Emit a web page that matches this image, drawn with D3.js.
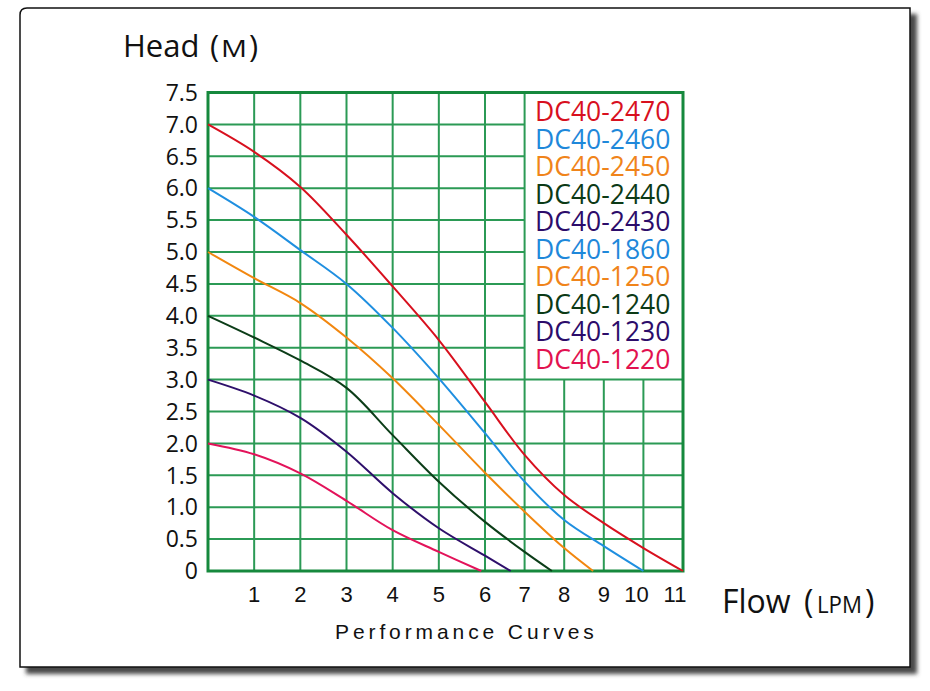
<!DOCTYPE html>
<meta charset="utf-8">
<style>
body { margin: 0; background: #fff; }
.grid line { stroke: #2b9a55; stroke-width: 2px; }
.frame-border { fill: none; stroke: #16893d; stroke-width: 3px; }
.curve { fill: none; stroke-width: 2px; }
.ytick { font-family: "Open Sans", sans-serif; font-size: 23px; fill: #111; }
.xtick { font-family: "Liberation Sans", Arial, sans-serif; font-size: 22px; fill: #111; }
.legend text { font-family: "Open Sans", sans-serif; font-size: 26.5px; }
.axis-title { font-family: "Open Sans", sans-serif; fill: #111; }
.caption { font-family: "Liberation Sans", Arial, sans-serif; font-size: 21px; letter-spacing: 3.9px; fill: #111; }
</style>
<body>
<script src="https://d3js.org/d3.v7.min.js"></script>
<script>

var width = 930,
    height = 691;

// axis ticks
var flowTicks = [1, 2, 3, 4, 5, 6, 7, 8, 9, 10, 11];
var headTicks = [0, 0.5, 1, 1.5, 2, 2.5, 3, 3.5, 4, 4.5, 5, 5.5, 6, 6.5, 7, 7.5];

// legend
var models = ["DC40-2470", "DC40-2460", "DC40-2450", "DC40-2440", "DC40-2430",
              "DC40-1860", "DC40-1250", "DC40-1240", "DC40-1230", "DC40-1220"];
var modelColors = ["#d8101e", "#1f88da", "#f0841a", "#0c3a16", "#2c0c6a",
                   "#1f88da", "#f0841a", "#0c3a16", "#2c0c6a", "#e2124f"];

// curves (flow LPM, head M)
var flow2470 = [0, 1, 2, 3, 4, 5, 6, 7, 8, 9, 10, 11];
var head2470 = [7.0, 6.57, 6.02, 5.27, 4.46, 3.62, 2.65, 1.82, 1.19, 0.75, 0.36, 0];
var flow2460 = [0, 1, 2, 3, 4, 5, 6, 7, 8, 9, 10];
var head2460 = [6.0, 5.55, 5.03, 4.5, 3.81, 3.02, 2.16, 1.40, 0.80, 0.39, 0];
var flow2450 = [0, 1, 2, 3, 4, 5, 6, 7, 8, 8.73];
var head2450 = [5.0, 4.59, 4.2, 3.66, 3.02, 2.29, 1.54, 0.93, 0.36, 0];
var flow2440 = [0, 1, 2, 3, 4, 5, 6, 7, 7.69];
var head2440 = [4.0, 3.66, 3.30, 2.87, 2.13, 1.40, 0.77, 0.30, 0];
var flow2430 = [0, 1, 2, 3, 4, 5, 6, 6.65];
var head2430 = [3.0, 2.75, 2.40, 1.87, 1.22, 0.67, 0.24, 0];
var flow1220 = [0, 1, 2, 3, 4, 5, 5.92];
var head1220 = [2.0, 1.83, 1.53, 1.10, 0.64, 0.30, 0];

var curves = [
  {flow: flow2470, head: head2470, color: "#d8101e"},
  {flow: flow2460, head: head2460, color: "#1f8fe0"},
  {flow: flow2450, head: head2450, color: "#f2870f"},
  {flow: flow2440, head: head2440, color: "#0c3d18"},
  {flow: flow2430, head: head2430, color: "#2e0f6b"},
  {flow: flow1220, head: head1220, color: "#e3135a"}
];

// the flow axis is squeezed after 6 LPM
var x = d3.scaleLinear().domain([0, 6, 11]).range([208, 485, 683]);
var y = d3.scaleLinear().domain([0, 7.5]).range([571, 92.5]);

var svg = d3.select("body").append("svg")
    .attr("width", width)
    .attr("height", height);

// card frame with shadow
var defs = svg.append("defs");
defs.append("filter").attr("id", "blur")
  .append("feGaussianBlur").attr("stdDeviation", 2);

svg.append("rect")
    .attr("x", 26).attr("y", 14)
    .attr("width", 891).attr("height", 660)
    .attr("fill", "#4a4a4a")
    .attr("filter", "url(#blur)");

svg.append("path")
    .attr("d", "M20,15 Q20,8 27,8 H910 V667 H20 Z")
    .attr("fill", "#fff")
    .attr("stroke", "#111")
    .attr("stroke-width", 1.5);

// grid
var legendFlow = 7, legendHead = 3;
var grid = svg.append("g").attr("class", "grid");

grid.selectAll(".h")
    .data(headTicks.filter(function(d) { return d > 0 && d < 7.5; }))
  .enter().append("line")
    .attr("x1", x(0))
    .attr("x2", function(d) { return d > legendHead ? x(legendFlow) : x(11); })
    .attr("y1", function(d) { return y(d); })
    .attr("y2", function(d) { return y(d); });

grid.selectAll(".v")
    .data(flowTicks.filter(function(d) { return d < 11; }))
  .enter().append("line")
    .attr("x1", function(d) { return x(d); })
    .attr("x2", function(d) { return x(d); })
    .attr("y1", y(0))
    .attr("y2", function(d) { return d > legendFlow ? y(legendHead) : y(7.5); });

svg.append("rect")
    .attr("class", "frame-border")
    .attr("x", x(0)).attr("y", y(7.5))
    .attr("width", x(11) - x(0))
    .attr("height", y(0) - y(7.5));

// curves
var line = d3.line()
    .x(function(d) { return x(d[0]); })
    .y(function(d) { return y(d[1]); })
    .curve(d3.curveCatmullRom.alpha(0.5));

svg.selectAll(".curve")
    .data(curves)
  .enter().append("path")
    .attr("class", "curve")
    .attr("stroke", function(d) { return d.color; })
    .attr("d", function(d) { return line(d3.zip(d.flow, d.head)); });

// tick labels
svg.selectAll(".ytick")
    .data(headTicks)
  .enter().append("text")
    .attr("class", "ytick")
    .attr("x", 198)
    .attr("y", function(d) { return y(d); })
    .attr("dy", "0.36em")
    .attr("text-anchor", "end")
    .text(function(d) { return d === 0 ? "0" : d3.format(".1f")(d); });

svg.selectAll(".xtick")
    .data(flowTicks)
  .enter().append("text")
    .attr("class", "xtick")
    .attr("x", function(d) { return x(d); })
    .attr("dx", function(d) { return d === 10 ? -7 : d === 11 ? -8 : 0; })
    .attr("y", 602)
    .attr("text-anchor", "middle")
    .text(function(d) { return d; });

// legend
svg.append("g")
    .attr("class", "legend")
  .selectAll("text")
    .data(models)
  .enter().append("text")
    .attr("x", 535)
    .attr("y", function(d, i) { return 121 + i * 27.5; })
    .attr("fill", function(d, i) { return modelColors[i]; })
    .text(function(d) { return d; });

// axis titles (unit letters are small and wide in the original)
var ht = svg.append("text").attr("class", "axis-title")
    .attr("y", 57).style("font-size", "31px");
ht.append("tspan").attr("x", 123).text("Head");
ht.append("tspan").attr("x", 210).text("(");
ht.append("tspan").attr("x", 221).style("font-size", "24px")
    .attr("textLength", 26).attr("lengthAdjust", "spacingAndGlyphs").text("M");
ht.append("tspan").attr("x", 249).text(")");

var ft = svg.append("text").attr("class", "axis-title")
    .attr("y", 613).style("font-size", "32px");
ft.append("tspan").attr("x", 722).text("Flow");
ft.append("tspan").attr("x", 804).text("(");
ft.append("tspan").attr("x", 817).style("font-size", "24px")
    .attr("textLength", 45).attr("lengthAdjust", "spacingAndGlyphs").text("LPM");
ft.append("tspan").attr("x", 865).text(")");

svg.append("text")
    .attr("class", "caption")
    .attr("x", 335)
    .attr("y", 639)
    .text("Performance Curves");

</script>
